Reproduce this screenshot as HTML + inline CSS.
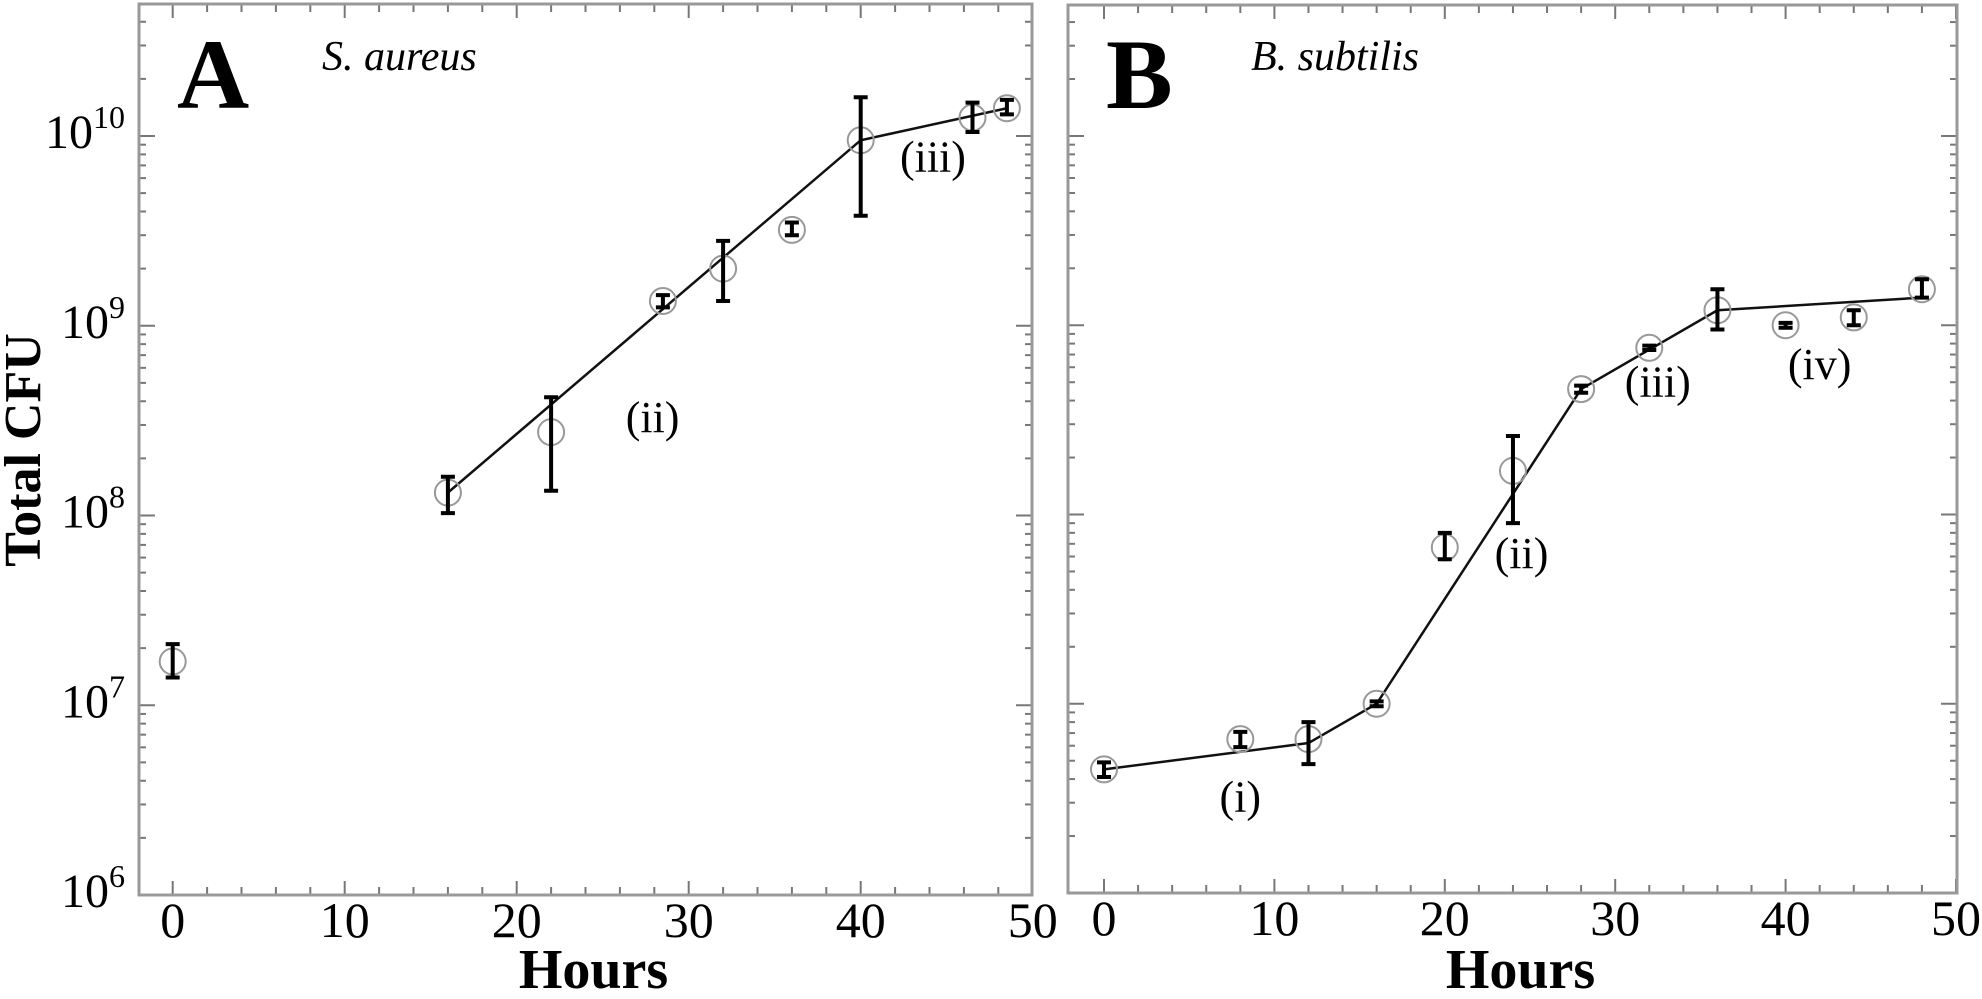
<!DOCTYPE html>
<html><head><meta charset="utf-8"><style>
html,body{margin:0;padding:0;background:#fff;}
svg{display:block;}
text{font-family:"Liberation Serif",serif;fill:#000;}
</style></head><body>
<svg id="chart" width="1982" height="999" viewBox="0 0 1982 999" xmlns="http://www.w3.org/2000/svg">
<text transform="translate(40,450) rotate(-90)" text-anchor="middle" font-size="52" font-weight="bold">Total CFU</text>
</svg>
<script>
// Panel A: S. aureus
const hoursA = [0, 16, 22, 28.5, 32, 36, 40, 46.5, 48.5];
const cfuA   = [1.7e7, 1.32e8, 2.75e8, 1.35e9, 2.0e9, 3.2e9, 9.5e9, 1.25e10, 1.4e10];
const lowA   = [1.4e7, 1.03e8, 1.35e8, 1.25e9, 1.35e9, 3.0e9, 3.8e9, 1.05e10, 1.3e10];
const highA  = [2.1e7, 1.6e8, 4.2e8, 1.45e9, 2.8e9, 3.5e9, 1.6e10, 1.5e10, 1.55e10];
const fitHoursA = [16, 40, 48.5];
const fitCfuA   = [1.32e8, 9.5e9, 1.4e10];
// Panel B: B. subtilis
const hoursB = [0, 8, 12, 16, 20, 24, 28, 32, 36, 40, 44, 48];
const cfuB   = [4.5e6, 6.5e6, 6.5e6, 1.0e7, 6.7e7, 1.7e8, 4.6e8, 7.6e8, 1.2e9, 1.0e9, 1.1e9, 1.55e9];
const lowB   = [4.1e6, 5.9e6, 4.8e6, 9.7e6, 5.8e7, 9.0e7, 4.4e8, 7.4e8, 9.5e8, 9.7e8, 1.0e9, 1.4e9];
const highB  = [4.9e6, 7.1e6, 8.0e6, 1.03e7, 8.0e7, 2.6e8, 4.8e8, 7.8e8, 1.55e9, 1.03e9, 1.2e9, 1.75e9];
const fitHoursB = [0, 12, 16, 28, 36, 48];
const fitCfuB   = [4.5e6, 6.2e6, 1.0e7, 4.6e8, 1.2e9, 1.4e9];
const xTicks = [0, 10, 20, 30, 40, 50];
const yDecades = [6, 7, 8, 9, 10];

const NS = "http://www.w3.org/2000/svg";
const svg = document.getElementById('chart');
function mk(tag, attrs, parent){
  const e = document.createElementNS(NS, tag);
  for (const k in attrs) e.setAttribute(k, attrs[k]);
  (parent||svg).appendChild(e); return e;
}

function panel(cfg){
  const g = mk('g', {});
  
  
  const xs = h => cfg.x0 + h * cfg.pxh;
  const ys = v => cfg.yb - (Math.log10(v) - 6) * cfg.dec;
  // minor / major ticks
  for (let h = 0; h <= 50; h += 2) {
    const major = h % 10 === 0;
    const len = major ? 14 : 8;
    const x = xs(h);
    if (x > cfg.R) continue;
    const t1 = mk('line', {x1:x, x2:x, y1:cfg.yb, y2:cfg.yb-len, stroke:'#777', 'stroke-width':2}, g);
    
    
    const t2 = mk('line', {x1:x, x2:x, y1:cfg.T, y2:cfg.T+len, stroke:'#777', 'stroke-width':2}, g);
    
    
  }
  for (let d = 6; d <= 10; d++) {
    for (let m = 1; m <= 9; m++) {
      const y = ys(m * Math.pow(10, d));
      if (y < cfg.T) continue;
      const len = m === 1 ? 16 : 7;
      const a = mk('line', {x1:cfg.L, x2:cfg.L+len, y1:y, y2:y, stroke:'#777', 'stroke-width':2}, g);
      
      
      const b = mk('line', {x1:cfg.R, x2:cfg.R-len, y1:y, y2:y, stroke:'#777', 'stroke-width':2}, g);
      
      
    }
  }
  const fr = mk('rect', {x:cfg.L, y:cfg.T, width:cfg.R-cfg.L, height:cfg.yb-cfg.T, fill:'none', stroke:'#999', 'stroke-width':3}, g);
  
  
  // x tick labels
  xTicks.forEach(t => {
    const tx = mk('text', {x:xs(t), y:cfg.yb+42, 'text-anchor':'middle', 'font-size':50}, g);
    
    
    tx.textContent = t;
  });
  if (cfg.yLabels) {
    yDecades.forEach(d => {
      const tx = mk('text', {x:cfg.L-14, y:ys(Math.pow(10,d))+12, 'text-anchor':'end', 'font-size':48}, g);
      
      
      const s1 = mk('tspan', {}, tx); s1.textContent = '10';
      const s2 = mk('tspan', {'font-size':32, dy:-20}, tx); s2.textContent = d;
    });
  }
  const xt = mk('text', {x:(cfg.L+cfg.R)/2+8, y:988, 'text-anchor':'middle', 'font-size':56, 'font-weight':'bold'}, g);
  
  
  xt.textContent = 'Hours';
  const pl = mk('text', {x:cfg.L+38, y:108, 'font-size':100, 'font-weight':'bold'}, g);
  
  
  pl.textContent = cfg.letter;
  const sp = mk('text', {x:cfg.L+183, y:70, 'font-size':42, 'font-style':'italic'}, g);
  
  
  sp.textContent = cfg.species;
  // fit line
  const pts = cfg.fh.map((h,i) => xs(h)+','+ys(cfg.fc[i])).join(' ');
  const ln = mk('polyline', {points:pts, fill:'none', stroke:'#111', 'stroke-width':2.5}, g);
  
  
  // points
  cfg.h.forEach((h,i) => {
    const x = xs(h);
    const c = mk('circle', {cx:x, cy:ys(cfg.c[i]), r:13, fill:'none', stroke:'#999', 'stroke-width':2}, g);
    
    
    const y1 = ys(cfg.hi[i]), y2 = ys(cfg.lo[i]);
    const e = mk('path', {d:`M${x},${y1}V${y2}M${x-7},${y1}H${x+7}M${x-7},${y2}H${x+7}`, stroke:'#000', 'stroke-width':4, fill:'none'}, g);
    
    
  });
  cfg.labels.forEach(l => {
    const t = mk('text', {x:xs(l[0]), y:ys(l[1]), 'text-anchor':'middle', 'font-size':44}, g);
    
    
    t.textContent = l[2];
  });
}

panel({name:'panel-a', L:139, R:1032, T:4, yb:895, x0:172.7, pxh:17.2, dec:189.75, yLabels:true,
  letter:'A', species:'S. aureus', h:hoursA, c:cfuA, lo:lowA, hi:highA, fh:fitHoursA, fc:fitCfuA,
  labels:[[27.9, 2.75e8, '(ii)'], [44.2, 6.5e9, '(iii)']]});
panel({name:'panel-b', L:1068, R:1957, T:5, yb:893, x0:1104, pxh:17.04, dec:189.25, yLabels:false,
  letter:'B', species:'B. subtilis', h:hoursB, c:cfuB, lo:lowB, hi:highB, fh:fitHoursB, fc:fitCfuB,
  labels:[[8, 2.7e6, '(i)'], [24.5, 5.2e7, '(ii)'], [32.5, 4.2e8, '(iii)'], [42, 5.2e8, '(iv)']]});
</script>
</body></html>
